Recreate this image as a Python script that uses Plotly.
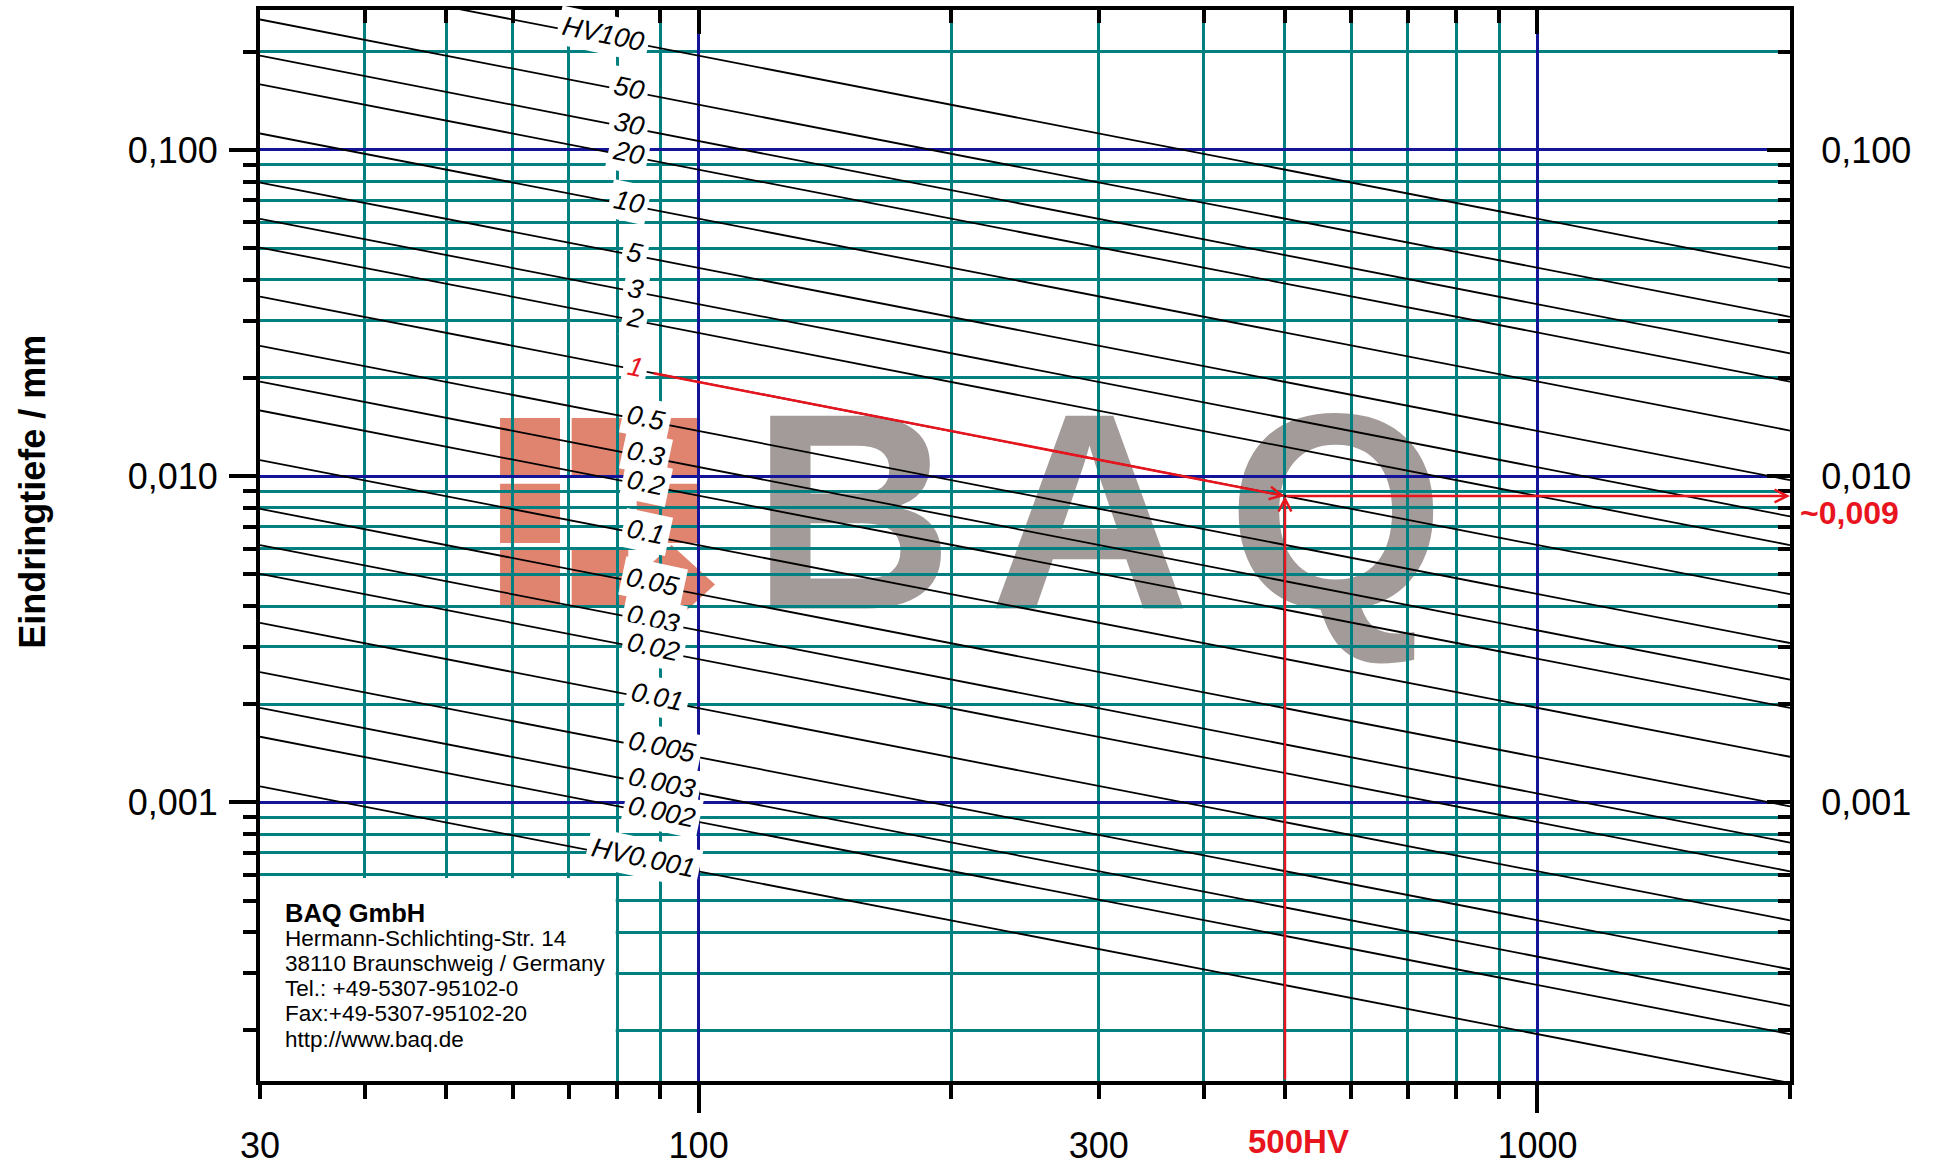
import numpy as np
import plotly.graph_objects as go

# ---------------- data ----------------
loads = [100, 50, 30, 20, 10, 5, 3, 2, 1, 0.5, 0.3, 0.2, 0.1, 0.05, 0.03,
         0.02, 0.01, 0.005, 0.003, 0.002, 0.001]
load_labels = ["HV100", "50", "30", "20", "10", "5", "3", "2", "1", "0.5", "0.3",
               "0.2", "0.1", "0.05", "0.03", "0.02", "0.01", "0.005", "0.003",
               "0.002", "HV0.001"]
hv_start = 30
hv_end = 2000
depth_at_hv30 = [0.3552, 0.2511, 0.1945, 0.1588, 0.1123, 0.0794, 0.0615, 0.0502,
                 0.0355, 0.0251, 0.0195, 0.0159, 0.0112, 0.00794, 0.00615, 0.00502,
                 0.00355, 0.00251, 0.00195, 0.00159, 0.00112]
depth_at_hv2000 = [0.0435, 0.0308, 0.0238, 0.0195, 0.0138, 0.00973, 0.00753, 0.00615,
                   0.00435, 0.00308, 0.00238, 0.00195, 0.00138, 0.000973, 0.000753,
                   0.000615, 0.000435, 0.000308, 0.000238, 0.000195, 0.000138]
label_hv = [77, 82.5, 82.5, 82.5, 82.6, 84, 84, 84, 84, 86.6, 86.6, 86.6, 86.6,
            88.3, 88.3, 88.3, 89.3, 90.5, 90.5, 90.5, 86]

x_major = [100, 1000]
x_minor = [30, 40, 50, 60, 70, 80, 90, 200, 300, 400, 500, 600, 700, 800, 900, 2000]
x_label_vals = [30, 100, 300, 1000]
x_label_text = ["30", "100", "300", "1000"]
y_major = [0.1, 0.01, 0.001]
y_major_text = ["0,100", "0,010", "0,001"]
y_minor = [0.2, 0.09, 0.08, 0.07, 0.06, 0.05, 0.04, 0.03, 0.02,
           0.009, 0.008, 0.007, 0.006, 0.005, 0.004, 0.003, 0.002,
           0.0009, 0.0008, 0.0007, 0.0006, 0.0005, 0.0004, 0.0003, 0.0002]

x_range = [30, 2000]
y_range = [0.00014, 0.2685]

example_load_index = 8      # HV1 line
example_start_hv = 88
example_hv = 500
example_depth = 0.0087
example_text = "~0,009"
example_hv_text = "500HV"

address_title = "BAQ GmbH"
address_lines = ["Hermann-Schlichting-Str. 14", "38110 Braunschweig / Germany",
                 "Tel.: +49-5307-95102-0", "Fax:+49-5307-95102-20", "http://www.baq.de"]

# ---------------- styles ----------------
FONT = "Liberation Sans, Arial, sans-serif"
TEAL = "rgb(0,128,128)"
BLUE = "rgb(20,20,155)"
RED = "rgb(232,20,30)"
GRAY = "rgb(163,155,153)"
SALMON = "rgb(224,132,112)"

lx = np.log10(x_range)
ly = np.log10(y_range)


def on_line(i, hv):
    t = (np.log10(hv) - np.log10(hv_start)) / (np.log10(hv_end) - np.log10(hv_start))
    a = np.log10(depth_at_hv30[i])
    b = np.log10(depth_at_hv2000[i])
    return a + t * (b - a)


fig = go.Figure()

for i, f in enumerate(loads):
    fig.add_trace(go.Scatter(x=[hv_start, hv_end], y=[depth_at_hv30[i], depth_at_hv2000[i]],
                             mode="lines", line=dict(color="black", width=1.8),
                             name=load_labels[i], showlegend=False, hoverinfo="skip"))

# invisible traces for the overlay axes
fig.add_trace(go.Scatter(x=[100], y=[0.01], xaxis="x2", yaxis="y2", mode="markers",
                         marker=dict(opacity=0), showlegend=False, hoverinfo="skip"))
fig.add_trace(go.Scatter(x=[100], y=[0.01], xaxis="x3", yaxis="y", mode="markers",
                         marker=dict(opacity=0), showlegend=False, hoverinfo="skip"))

tickfont = dict(family=FONT, size=36, color="black")

fig.update_layout(
    width=1934, height=1176, autosize=False,
    margin=dict(l=260, r=144, t=10, b=81),
    paper_bgcolor="white", plot_bgcolor="white",
    showlegend=False,
    xaxis=dict(type="log", range=list(lx), showline=True, linewidth=4, linecolor="black",
               ticks="outside", tickmode="array", tickvals=x_major, ticklen=28, tickwidth=4,
               tickcolor="black", showticklabels=False,
               showgrid=True, gridcolor=BLUE, gridwidth=2.5, zeroline=False,
               minor=dict(tickmode="array", tickvals=x_minor, ticks="outside", ticklen=14,
                          tickwidth=4, tickcolor="black", showgrid=True, gridcolor=TEAL,
                          gridwidth=2.7)),
    xaxis2=dict(type="log", range=list(lx), overlaying="x", side="top", anchor="y2",
                showline=True, linewidth=4, linecolor="black",
                ticks="inside", tickmode="array", tickvals=x_major, ticklen=24, tickwidth=4,
                tickcolor="black", showticklabels=False, showgrid=False, zeroline=False,
                minor=dict(tickmode="array", tickvals=x_minor, ticks="inside", ticklen=13,
                           tickwidth=4, tickcolor="black", showgrid=False)),
    xaxis3=dict(type="log", range=list(lx), overlaying="x", side="bottom", anchor="y",
                showline=False, ticks="", tickmode="array", tickvals=x_label_vals,
                ticktext=x_label_text, tickfont=tickfont, showgrid=False, zeroline=False,
                ticklabelstandoff=40),
    yaxis=dict(type="log", range=list(ly), showline=True, linewidth=4, linecolor="black",
               ticks="outside", tickmode="array", tickvals=y_major, ticktext=y_major_text,
               ticklen=27, tickwidth=4, tickcolor="black", tickfont=tickfont,
               ticklabelstandoff=4,
               showgrid=True, gridcolor=BLUE, gridwidth=2.5, zeroline=False,
               minor=dict(tickmode="array", tickvals=y_minor, ticks="outside", ticklen=13,
                          tickwidth=4, tickcolor="black", showgrid=True, gridcolor=TEAL,
                          gridwidth=2.7)),
    yaxis2=dict(type="log", range=list(ly), overlaying="y", side="right", anchor="x2",
                showline=True, linewidth=4, linecolor="black",
                ticks="inside", tickmode="array", tickvals=y_major, ticktext=y_major_text,
                ticklen=23, tickwidth=4, tickcolor="black", tickfont=tickfont,
                ticklabelstandoff=20, showgrid=False, zeroline=False,
                minor=dict(tickmode="array", tickvals=y_minor, ticks="inside", ticklen=12,
                           tickwidth=4, tickcolor="black", showgrid=False)),
)

# ---------------- watermark (below the grid) ----------------
shapes = []
logo_rects = [
    (0.1569, 0.5638, 0.1961, 0.6191), (0.1569, 0.5023, 0.1961, 0.5576),
    (0.1569, 0.4440, 0.1961, 0.4961),
    (0.2037, 0.5638, 0.2407, 0.6191), (0.2037, 0.4440, 0.2407, 0.4961),
    (0.2462, 0.5638, 0.2865, 0.6191), (0.2462, 0.5023, 0.2865, 0.5576),
]
for (x0, y0, x1, y1) in logo_rects:
    shapes.append(dict(type="rect", xref="paper", yref="paper", x0=x0, y0=y0, x1=x1, y1=y1,
                       fillcolor=SALMON, line=dict(width=0), layer="below"))
cx, cy, dx, dy = 0.2690, 0.4636, 0.0284, 0.0369
shapes.append(dict(type="path", xref="paper", yref="paper",
                   path=f"M {cx},{cy+dy} L {cx+dx},{cy} L {cx},{cy-dy} L {cx-dx},{cy} Z",
                   fillcolor=SALMON, line=dict(width=0), layer="below"))
for letter, xc in zip(["B", "A", "Q"], [0.3873, 0.5422, 0.7033]):
    shapes.append(dict(type="rect", xref="paper", yref="paper",
                       x0=xc - 0.07, x1=xc + 0.07, y0=0.467, y1=0.647,
                       fillcolor="rgba(0,0,0,0)", line=dict(width=0), layer="below",
                       label=dict(text=letter, textposition="middle center",
                                  font=dict(family=FONT, size=280, color=GRAY,
                                            weight="bold"))))
# address box (above grid)
shapes.append(dict(type="rect", xref="paper", yref="paper", x0=0, y0=0, x1=0.2325, y1=0.1895,
                   fillcolor="white", line=dict(width=0), layer="above"))
fig.update_layout(shapes=shapes)

# ---------------- annotations ----------------
ann = []
for i, txt in enumerate(load_labels):
    col = RED if i == example_load_index else "black"
    ann.append(dict(x=np.log10(label_hv[i]), y=on_line(i, label_hv[i]), xref="x", yref="y",
                    text=f"<i>{txt}</i>", showarrow=False, textangle=12,
                    font=dict(family=FONT, size=27, color=col),
                    bgcolor="white", borderpad=4, yshift=3))

# red example path
y_ex = np.log10(example_depth)
ann.append(dict(x=np.log10(example_hv), y=y_ex, xref="x", yref="y",
                ax=np.log10(example_start_hv), ay=on_line(example_load_index, example_start_hv),
                axref="x", ayref="y", text="", showarrow=True, arrowhead=5, arrowsize=1,
                arrowwidth=2.5, arrowcolor=RED, standoff=0, startstandoff=0))
ann.append(dict(x=np.log10(example_hv), y=y_ex, xref="x", yref="y",
                ax=np.log10(example_hv), ay=ly[0], axref="x", ayref="y", text="",
                showarrow=True, arrowhead=5, arrowsize=1, arrowwidth=2.5, arrowcolor=RED,
                standoff=0))
ann.append(dict(x=lx[1], y=y_ex, xref="x", yref="y",
                ax=np.log10(example_hv), ay=y_ex, axref="x", ayref="y", text="",
                showarrow=True, arrowhead=5, arrowsize=1, arrowwidth=2.5, arrowcolor=RED,
                standoff=0))
ann.append(dict(x=1.0052, y=y_ex, xref="paper", yref="y", xanchor="left", yanchor="middle",
                yshift=-17, text=f"<b>{example_text}</b>", showarrow=False,
                font=dict(family=FONT, size=32, color=RED)))
ann.append(dict(x=np.log10(example_hv), y=0, xref="x", yref="paper", xanchor="center",
                yanchor="middle", xshift=14, yshift=-60, text=f"<b>{example_hv_text}</b>",
                showarrow=False, font=dict(family=FONT, size=33, color=RED)))

# y-axis title
ann.append(dict(x=-0.1484, y=0.5502, xref="paper", yref="paper", text="<b>Eindringtiefe / mm</b>",
                textangle=-90, showarrow=False, xanchor="center", yanchor="middle",
                font=dict(family=FONT, size=36, color="black")))

# address
ann.append(dict(x=0.0150, y=0.1572, xref="paper", yref="paper", xanchor="left",
                yanchor="middle", text=f"<b>{address_title}</b>", showarrow=False,
                font=dict(family=FONT, size=25.5, color="black")))
for k, line in enumerate(address_lines):
    ann.append(dict(x=0.0150, y=0.1335 - k * 0.0236, xref="paper", yref="paper",
                    xanchor="left", yanchor="middle", text=line, showarrow=False,
                    font=dict(family=FONT, size=22.5, color="black")))

fig.update_layout(annotations=ann)

fig.write_html("out.html", config={"displayModeBar": False},
               post_script="document.body.style.margin='0px';")
